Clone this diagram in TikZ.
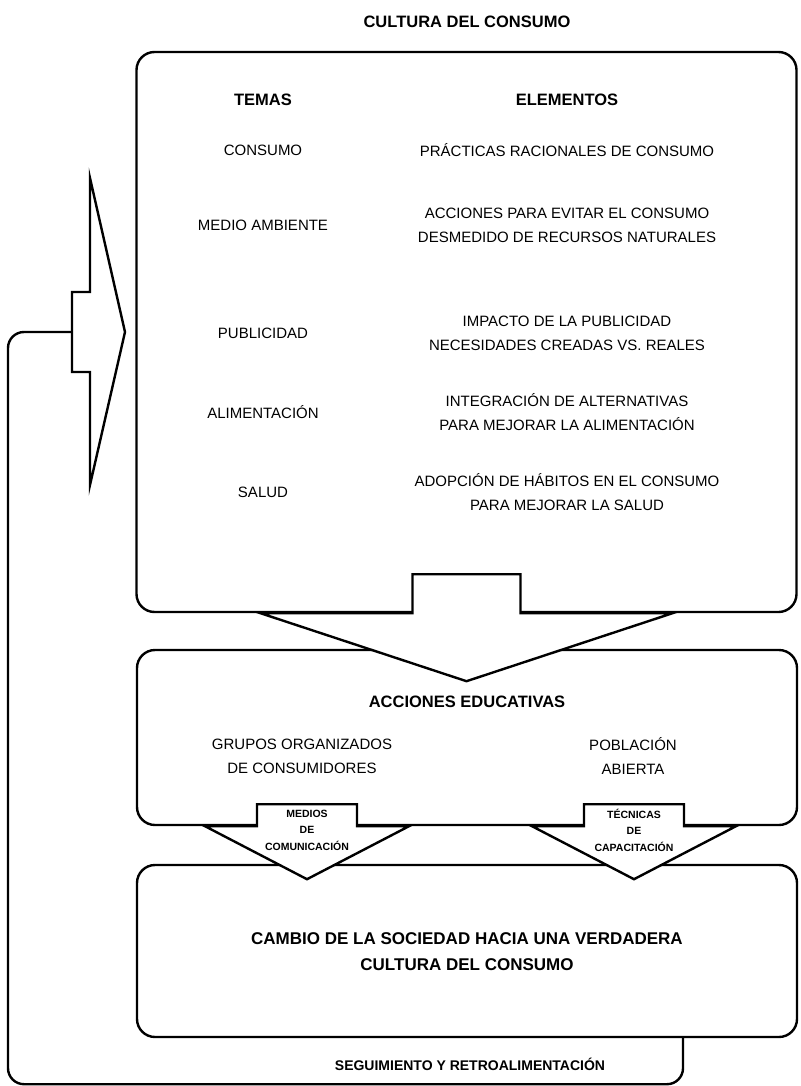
\documentclass[tikz,border=0pt]{standalone}
\usepackage{fontspec}
\setmainfont{Liberation Sans}
\usetikzlibrary{calc}
\tikzset{
  panel/.style={draw, line width=2.4pt, rounded corners=18pt, minimum width=660pt, inner sep=0pt},
  tema/.style={align=center, font=\fontsize{15}{24}\selectfont, inner sep=0pt},
  head/.style={align=center, font=\fontsize{16.5}{24}\selectfont\bfseries, inner sep=0pt},
  tag/.style={align=center, font=\fontsize{10.5}{16.5}\selectfont\bfseries, inner sep=0pt},
  blockarrow/.style={draw, line width=2.4pt, fill=white, line join=miter},
  feedback/.style={draw, line width=2.4pt, rounded corners=16pt}
}

\begin{document}
\begin{tikzpicture}[x=1pt, y=-1pt]
  \useasboundingbox (0,0) rectangle (800,1086);

  % the three boxes
  \node[panel, minimum height=560pt] (temas) at (466.5,332) {};
  \node[panel, minimum height=175pt] (acciones) at (467,737.5) {};
  \node[panel, minimum height=172pt] (cambio) at (467,951) {};

  % big arrow from temas to acciones
  \draw[blockarrow] ($(temas.south)+(-54,0)$) -- ++(0,-39) -- ++(108,0) -- ++(0,39)
    -- ($(temas.south)+(206,0)$) -- ($(temas.south)+(0,68)$) -- ($(temas.south)+(-206,0)$) -- cycle;

  % two small arrows from acciones to cambio
  \foreach \cx/\txt [count=\i] in {307/{MEDIOS\\DE\\COMUNICACIÓN}, 634/{TÉCNICAS\\DE\\CAPACITACIÓN}} {
    \path (acciones.south) ++(\cx-467,0) coordinate (base\i);
    \draw[blockarrow] ($(base\i)+(-50,0)$) -- ++(0,-22) -- ++(100,0) -- ++(0,22)
      -- ($(base\i)+(102,0)$) -- ($(base\i)+(0,53)$) -- ($(base\i)+(-102,0)$) -- cycle;
    \node[tag] (via\i) at ($(base\i)+(0,4)$) {\txt};
  }

  % arrow back into temas
  \coordinate (inlet) at (72,332);
  \draw[blockarrow] (72,292) -- (90,292) -- (90,178) -- (125,332) -- (90,485) -- (90,372) -- (72,372) -- cycle;

  % feedback loop
  \coordinate (drop) at ($(cambio.south)+(216,0)$);
  \draw[feedback] (drop) -- ++(0,46) -| (8,332) -- (inlet);
  \node[head, font=\fontsize{14}{20}\selectfont\bfseries] (seguimiento) at (470,1064) {SEGUIMIENTO Y RETROALIMENTACIÓN};

  % texts
  \node[head] (titulo) at (467,22) {CULTURA DEL CONSUMO};
  \node[head] (hTemas) at (263,100) {TEMAS};
  \node[head] (hElementos) at (567,100) {ELEMENTOS};
  \foreach \y/\t/\e [count=\i] in {
      150/CONSUMO/PRÁCTICAS RACIONALES DE CONSUMO,
      225/MEDIO AMBIENTE/{ACCIONES PARA EVITAR EL CONSUMO\\DESMEDIDO DE RECURSOS NATURALES},
      333/PUBLICIDAD/{IMPACTO DE LA PUBLICIDAD\\NECESIDADES CREADAS VS. REALES},
      412/ALIMENTACIÓN/{INTEGRACIÓN DE ALTERNATIVAS\\PARA MEJORAR LA ALIMENTACIÓN},
      492/SALUD/{ADOPCIÓN DE HÁBITOS EN EL CONSUMO\\PARA MEJORAR LA SALUD}} {
    \node[tema] (tema\i) at (263,\y) {\t};
    \node[tema] (elem\i) at (567,\y) {\e};
  }

  \node[head] (hAcciones) at (467,702) {ACCIONES EDUCATIVAS};
  \node[tema] (grupos) at (302,756) {GRUPOS ORGANIZADOS\\DE CONSUMIDORES};
  \node[tema] (poblacion) at (633,756) {POBLACIÓN\\ABIERTA};
  \node[head, font=\fontsize{17}{26}\selectfont\bfseries] (meta) at (467,952) {CAMBIO DE LA SOCIEDAD HACIA UNA VERDADERA\\CULTURA DEL CONSUMO};
\end{tikzpicture}
\end{document}
